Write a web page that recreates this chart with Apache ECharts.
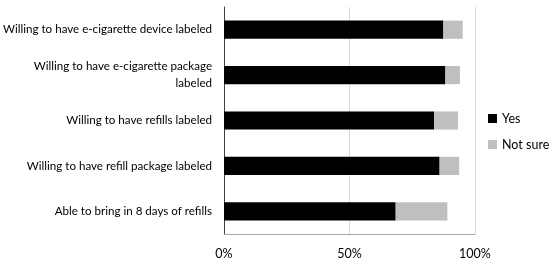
<!DOCTYPE html>
<html><head><meta charset="utf-8">
<script src="https://cdn.jsdelivr.net/npm/echarts@6/dist/echarts.min.js"></script>
<style>html,body{margin:0;padding:0;background:#fff}#c{width:550px;height:261px}</style>
</head><body><div id="c"></div>
<script>
const categories = [
  "Willing to have e-cigarette device labeled",
  "Willing to have e-cigarette package\nlabeled",
  "Willing to have refills labeled",
  "Willing to have refill package labeled",
  "Able to bring in 8 days of refills"
];
const yesValues = [87.4, 88.2, 83.7, 85.9, 68.4];
const notSureValues = [7.7, 5.8, 9.5, 7.8, 20.6];
const xTicks = [0, 50, 100];

const font = "Lato";
const chart = echarts.init(document.getElementById('c'));
chart.setOption({
  animation: false,
  textStyle: {fontFamily: font},
  grid: {left: 224, right: 75, top: 7, bottom: 27, containLabel: false, outerBoundsMode: 'none'},
  legend: {
    orient: 'vertical', left: 483, top: 107, itemWidth: 9, itemHeight: 9, itemGap: 13,
    textStyle: {fontFamily: font, fontSize: 12.5, color: '#000'},
    data: ['Yes', 'Not sure'], icon: 'rect'
  },
  xAxis: {
    type: 'value', min: 0, max: 100, interval: 50,
    axisLine: {show: true, lineStyle: {color: '#a6a6a6'}},
    axisTick: {show: false},
    splitLine: {show: true, lineStyle: {color: '#d9d9d9'}},
    axisLabel: {formatter: v => xTicks.includes(v) ? v + '%' : '', color: '#000', fontSize: 12.5, margin: 13, fontFamily: font}
  },
  yAxis: {
    type: 'category', data: categories, inverse: true,
    axisLine: {show: true, lineStyle: {color: '#404040'}},
    axisTick: {show: false},
    axisLabel: {color: '#000', fontSize: 11.6, margin: 12, align: 'right', fontFamily: font, lineHeight: 17}
  },
  series: [
    {name: 'Yes', type: 'bar', stack: 's', data: yesValues, barWidth: '40%', itemStyle: {color: '#000'}},
    {name: 'Not sure', type: 'bar', stack: 's', data: notSureValues, barWidth: '40%', itemStyle: {color: '#bfbfbf'}}
  ]
});
</script></body></html>
